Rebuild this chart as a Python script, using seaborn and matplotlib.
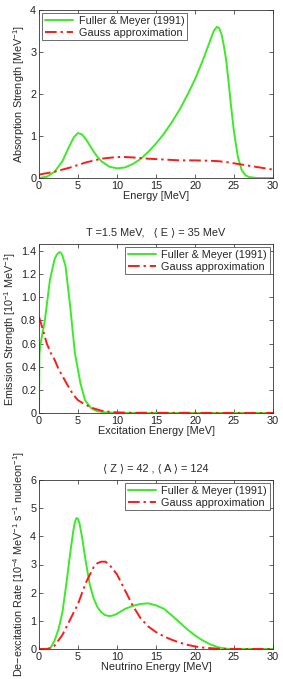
import numpy as np
import pandas as pd
import matplotlib
matplotlib.use("Agg")
import matplotlib.pyplot as plt
import seaborn as sns

# ---------------- data ----------------
# Panel 1: absorption strength
abs_fm_x = [0, 1, 2, 3, 3.5, 4, 4.5, 5, 5.5, 6, 6.5, 7, 7.5, 8, 9, 10, 11, 12, 13, 14, 15, 16, 17, 18,
            19, 20, 21, 22, 22.4, 22.8, 23.1, 23.4, 23.7, 24, 24.3, 24.6, 25, 25.5, 26, 26.5, 27, 28, 30]
abs_fm_y = [0.0, 0.03, 0.15, 0.4, 0.6, 0.8, 0.98, 1.07, 1.04, 0.93, 0.78, 0.63, 0.5, 0.4, 0.27, 0.23,
            0.25, 0.33, 0.45, 0.62, 0.82, 1.05, 1.32, 1.62, 1.97, 2.35, 2.8, 3.3, 3.5, 3.6, 3.57,
            3.42, 3.15, 2.8, 2.3, 1.75, 1.1, 0.5, 0.18, 0.06, 0.02, 0.0, 0.0]
abs_ga_x = [0, 2, 4, 6, 8, 10, 11, 12, 14, 16, 18, 20, 22, 23, 24, 25, 26, 28, 30]
abs_ga_y = [0.08, 0.15, 0.25, 0.37, 0.46, 0.5, 0.5, 0.49, 0.46, 0.44, 0.42, 0.42, 0.41, 0.40, 0.38,
            0.35, 0.32, 0.26, 0.2]

# Panel 2: emission strength
em_fm_x = [0, 0.05, 0.15, 0.75, 1.4, 2.0, 2.3, 2.6, 2.8, 3.0, 3.4, 4.0, 4.6, 5.3, 5.9, 6.7, 7.5, 8.5,
           10, 30]
em_fm_y = [0.0, 0.5, 0.58, 0.8, 1.15, 1.33, 1.37, 1.39, 1.385, 1.36, 1.27, 0.92, 0.52, 0.26, 0.11,
           0.04, 0.015, 0.005, 0.0, 0.0]
em_ga_x = [0, 0.5, 1, 1.5, 2, 2.5, 3, 3.5, 4, 4.5, 5, 6, 7, 8, 9, 10, 12, 30]
em_ga_y = [0.83, 0.72, 0.6, 0.52, 0.46, 0.38, 0.32, 0.26, 0.2, 0.15, 0.11, 0.07, 0.04, 0.02, 0.01,
           0.005, 0.002, 0.0]

# Panel 3: de-excitation rate
de_fm_x = [0, 1, 1.5, 2, 2.5, 3, 3.5, 4, 4.4, 4.6, 4.8, 5.0, 5.2, 5.5, 6, 6.5, 7, 7.5, 8, 8.5, 9, 9.5,
           10, 11, 12, 13, 14, 15, 16, 17, 18, 19, 20, 21, 22, 23, 24, 25, 30]
de_fm_y = [0, 0, 0.05, 0.3, 0.7, 1.3, 2.3, 3.4, 4.2, 4.5, 4.65, 4.62, 4.45, 4.0, 3.1, 2.3, 1.8, 1.48,
           1.3, 1.2, 1.17, 1.19, 1.25, 1.42, 1.53, 1.6, 1.62, 1.55, 1.43, 1.2, 0.95, 0.7, 0.48, 0.3,
           0.16, 0.06, 0.01, 0, 0]
de_ga_x = [0, 1, 1.5, 2, 3, 4, 5, 6, 7, 7.5, 8, 8.5, 9, 10, 11, 12, 13, 14, 15, 16, 17, 18, 19, 20,
           21, 22, 23, 25, 30]
de_ga_y = [0, 0, 0.02, 0.12, 0.5, 1.05, 1.6, 2.35, 2.9, 3.05, 3.1, 3.1, 3.0, 2.65, 2.1, 1.55, 1.1,
           0.8, 0.6, 0.45, 0.33, 0.23, 0.15, 0.09, 0.05, 0.03, 0.01, 0, 0]

series_labels = ["Fuller & Meyer (1991)", "Gauss approximation"]
xlabels = ["Energy [MeV]", "Excitation Energy [MeV]", "Neutrino Energy [MeV]"]
ylabels = ["Absorption Strength [MeV$^{-1}$]",
           "Emission Strength [10$^{-1}$ MeV$^{-1}$]",
           "De\u2212excitation Rate [10$^{-4}$ MeV$^{-1}$ s$^{-1}$ nucleon$^{-1}$]"]
titles = [None, "T =1.5 MeV,   \u27e8 E \u27e9 = 35 MeV", "\u27e8 Z \u27e9 = 42 , \u27e8 A \u27e9 = 124"]
ylims = [(0, 4), (0, 1.46), (0, 6)]
yticks = [[0, 1, 2, 3, 4], [0, 0.2, 0.4, 0.6, 0.8, 1.0, 1.2, 1.4], [0, 1, 2, 3, 4, 5, 6]]
yticklabels = [["0", "1", "2", "3", "4"],
               ["0", "0.2", "0.4", "0.6", "0.8", "1.0", "1.2", "1.4"],
               ["0", "1", "2", "3", "4", "5", "6"]]
xticks = [0, 5, 10, 15, 20, 25, 30]
legend_locs = ["upper left", "upper right", "upper right"]

# ---------------- style ----------------
sns.set_style("ticks")
plt.rcParams["font.family"] = ["Liberation Sans", "DejaVu Sans"]
plt.rcParams["mathtext.default"] = "regular"
FS = 7.8

fig = plt.figure(figsize=(2.83, 6.79), dpi=100)
W, H = 283.0, 679.0
boxes = [(39, 10, 273, 178), (39, 244, 273, 413), (39, 480, 273, 649)]

panels = [(abs_fm_x, abs_fm_y, abs_ga_x, abs_ga_y),
          (em_fm_x, em_fm_y, em_ga_x, em_ga_y),
          (de_fm_x, de_fm_y, de_ga_x, de_ga_y)]

green = "#3cea28"
red = "#ff1a1a"

for i, (fx, fy, gx, gy) in enumerate(panels):
    l, t, r, b = boxes[i]
    ax = fig.add_axes([l / W, 1 - b / H, (r - l) / W, (b - t) / H])
    df = pd.concat([
        pd.DataFrame({"x": fx, "y": fy, "s": series_labels[0]}),
        pd.DataFrame({"x": gx, "y": gy, "s": series_labels[1]}),
    ], ignore_index=True)
    sns.lineplot(data=df, x="x", y="y", hue="s", style="s",
                 palette={series_labels[0]: green, series_labels[1]: red},
                 dashes={series_labels[0]: "", series_labels[1]: (6, 2, 1.2, 2)},
                 linewidth=1.4, sort=False, estimator=None, ax=ax, legend=True)
    ax.set_xlim(0, 30)
    ax.set_ylim(*ylims[i])
    ax.set_xticks(xticks)
    ax.set_xticklabels([str(v) for v in xticks])
    ax.set_yticks(yticks[i])
    ax.set_yticklabels(yticklabels[i])
    ax.tick_params(direction="in", top=True, right=True, length=3, width=0.5,
                   labelsize=FS, pad=2, colors="#222222")
    for sp in ax.spines.values():
        sp.set_linewidth(0.6)
        sp.set_color("#333333")
        sp.set_visible(True)
    ax.set_xlabel(xlabels[i], fontsize=FS, labelpad=0.5)
    ax.set_ylabel(ylabels[i], fontsize=FS, labelpad=2)
    if titles[i]:
        ax.set_title(titles[i], fontsize=FS, pad=6)
    h, lab = ax.get_legend_handles_labels()
    leg = ax.legend(h, lab, loc=legend_locs[i], fontsize=FS, frameon=True, fancybox=False,
                    framealpha=1, edgecolor="#555555", borderaxespad=0.3, handlelength=2.6,
                    handletextpad=0.5, borderpad=0.25, labelspacing=0.15)
    leg.get_frame().set_linewidth(0.6)

fig.savefig("out.png", dpi=100)
